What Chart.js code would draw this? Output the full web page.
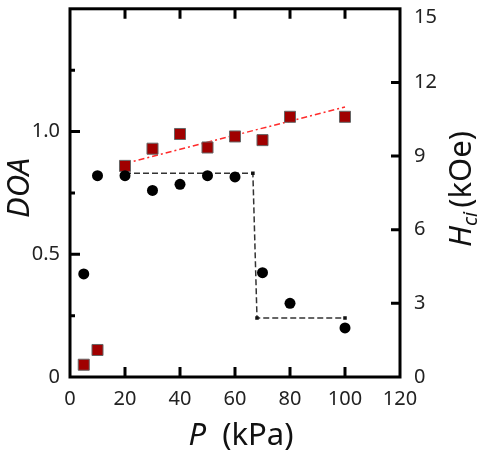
<!DOCTYPE html>
<html>
<head>
<meta charset="utf-8">
<script src="https://cdn.jsdelivr.net/npm/chart.js@4/dist/chart.umd.min.js"></script>
<style>
  html, body { margin: 0; padding: 0; background: #fff; }
  canvas { display: block; }
</style>
</head>
<body>
<canvas id="chart" width="480" height="455"></canvas>
<script>
// P (kPa)
const pressure = [5, 10, 20, 30, 40, 50, 60, 70, 80, 100];
// DOA, black circles, left axis
const doa = [0.42, 0.82, 0.82, 0.76, 0.785, 0.82, 0.815, 0.425, 0.30, 0.20];
// Hci (kOe), red squares, right axis
const hci = [0.5, 1.1, 8.6, 9.3, 9.9, 9.35, 9.8, 9.65, 10.6, 10.6];

// dashed guide lines
const stepX = [20, 66.5, 68, 100];
const stepY = [0.83, 0.83, 0.24, 0.24];
const fitX = [20, 100];
const fitY = [8.7, 11.0];

const pts = (xs, ys) => xs.map((x, i) => ({ x: x, y: ys[i] }));

const FONT = "'Noto Sans', sans-serif";
const TICK = 20;
const TITLE = 31;

// no automatic padding for labels hanging over the plot edges
const noPad = (w, h) => scale => {
  if (w) scale.width = w;
  if (h) scale.height = h;
  scale.paddingTop = 0; scale.paddingBottom = 0;
  scale.paddingLeft = 0; scale.paddingRight = 0;
};

// frame + inward tick marks + axis titles
const framePlugin = {
  id: 'frame',
  afterDraw(chart) {
    const ctx = chart.ctx;
    const a = chart.chartArea;
    const sx = chart.scales.x, sy = chart.scales.y, sy1 = chart.scales.y1;
    ctx.save();
    ctx.strokeStyle = '#000';
    ctx.lineWidth = 3;
    ctx.strokeRect(a.left, a.top, a.right - a.left, a.bottom - a.top);

    ctx.beginPath();
    sx.ticks.forEach(t => {
      if (t.value <= sx.min || t.value >= sx.max) return;
      const px = sx.getPixelForValue(t.value);
      ctx.moveTo(px, a.bottom); ctx.lineTo(px, a.bottom - 10);
      ctx.moveTo(px, a.top); ctx.lineTo(px, a.top + 10);
    });
    sy.ticks.forEach(t => {
      if (t.value <= sy.min || t.value >= sy.max) return;
      const py = sy.getPixelForValue(t.value);
      const len = Math.abs(t.value % 0.5) < 1e-6 ? 10 : 5;
      ctx.moveTo(a.left, py); ctx.lineTo(a.left + len, py);
    });
    sy1.ticks.forEach(t => {
      if (t.value <= sy1.min || t.value >= sy1.max) return;
      const py = sy1.getPixelForValue(t.value);
      ctx.moveTo(a.right, py); ctx.lineTo(a.right - 9, py);
    });
    ctx.stroke();

    // top label of the right axis sits a bit lower so it is not cut off
    ctx.fillStyle = '#222';
    ctx.font = TICK + 'px ' + FONT;
    ctx.textAlign = 'left';
    ctx.textBaseline = 'middle';
    ctx.fillText(String(sy1.max), a.right + 14, sy1.getPixelForValue(sy1.max) + 8);

    ctx.fillStyle = '#111';
    ctx.textBaseline = 'alphabetic';

    // left title
    ctx.save();
    ctx.translate(29, 188);
    ctx.rotate(-Math.PI / 2);
    ctx.textAlign = 'center';
    ctx.font = 'italic ' + TITLE + 'px ' + FONT;
    ctx.fillText('DOA', 0, 0);
    ctx.restore();

    // bottom title
    ctx.save();
    ctx.font = 'italic ' + TITLE + 'px ' + FONT;
    const wP = ctx.measureText('P').width;
    ctx.font = TITLE + 'px ' + FONT;
    const wRest = ctx.measureText('  (kPa)').width;
    let x0 = 241 - (wP + wRest) / 2;
    ctx.textAlign = 'left';
    ctx.font = 'italic ' + TITLE + 'px ' + FONT;
    ctx.fillText('P', x0, 445);
    ctx.font = TITLE + 'px ' + FONT;
    ctx.fillText('  (kPa)', x0 + wP, 445);
    ctx.restore();

    // right title
    ctx.save();
    ctx.translate(471, 189);
    ctx.rotate(-Math.PI / 2);
    ctx.textAlign = 'left';
    ctx.font = 'italic ' + TITLE + 'px ' + FONT;
    const wH = ctx.measureText('H').width;
    ctx.font = 'italic 20px ' + FONT;
    const wCi = ctx.measureText('ci').width;
    ctx.font = TITLE + 'px ' + FONT;
    const wK = ctx.measureText('(kOe)').width;
    let s = -(wH + wCi + 4 + wK) / 2;
    ctx.font = 'italic ' + TITLE + 'px ' + FONT;
    ctx.fillText('H', s, 0);
    ctx.font = 'italic 20px ' + FONT;
    ctx.fillText('ci', s + wH, 6);
    ctx.font = TITLE + 'px ' + FONT;
    ctx.fillText('(kOe)', s + wH + wCi + 4, 0);
    ctx.restore();

    ctx.restore();
  }
};

const config = {
  type: 'scatter',
  data: {
    datasets: [
      {
        label: 'DOA',
        data: pts(pressure, doa),
        yAxisID: 'y',
        pointStyle: 'circle',
        pointRadius: 5.5,
        backgroundColor: '#000',
        borderWidth: 0,
        order: 0
      },
      {
        label: 'Hci',
        data: pts(pressure, hci),
        yAxisID: 'y1',
        pointStyle: 'rect',
        pointRadius: 7.8,
        backgroundColor: '#a00000',
        borderColor: '#666',
        borderWidth: 1,
        order: 0
      },
      {
        label: 'DOA step',
        data: pts(stepX, stepY),
        yAxisID: 'y',
        showLine: true,
        borderColor: '#333',
        borderWidth: 1.5,
        borderDash: [6, 3],
        pointStyle: 'rect',
        pointRadius: 2.5,
        backgroundColor: '#111',
        pointBorderWidth: 0,
        order: 1
      },
      {
        label: 'Hci fit',
        data: pts(fitX, fitY),
        yAxisID: 'y1',
        showLine: true,
        borderColor: '#ff2a2a',
        borderWidth: 1.5,
        borderDash: [6, 3, 2, 3],
        pointRadius: 0,
        order: 1
      }
    ]
  },
  options: {
    responsive: false,
    animation: false,
    layout: { padding: { top: 6, left: 0, right: 0, bottom: 0 } },
    plugins: {
      legend: { display: false },
      tooltip: { enabled: false }
    },
    scales: {
      x: {
        type: 'linear',
        min: 0,
        max: 120,
        grid: { display: false, drawTicks: false },
        border: { display: false },
        ticks: {
          stepSize: 20,
          padding: 10,
          color: '#222',
          font: { family: FONT, size: TICK }
        },
        afterFit: noPad(0, 78)
      },
      y: {
        position: 'left',
        min: 0,
        max: 1.5,
        grid: { display: false, drawTicks: false },
        border: { display: false },
        ticks: {
          stepSize: 0.25,
          padding: 10,
          color: '#222',
          font: { family: FONT, size: TICK },
          callback: v => Math.abs(v % 0.5) < 1e-6 && v < 1.5 ? (v === 0 ? '0' : v.toFixed(1)) : ''
        },
        afterFit: noPad(70, 0)
      },
      y1: {
        position: 'right',
        min: 0,
        max: 15,
        grid: { display: false, drawTicks: false },
        border: { display: false },
        ticks: {
          stepSize: 3,
          padding: 14,
          color: '#222',
          font: { family: FONT, size: TICK },
          callback: v => v < 15 ? String(v) : ''
        },
        afterFit: noPad(80, 0)
      }
    }
  },
  plugins: [framePlugin]
};

let Charts = new Chart('chart', config);
</script>
</body>
</html>
